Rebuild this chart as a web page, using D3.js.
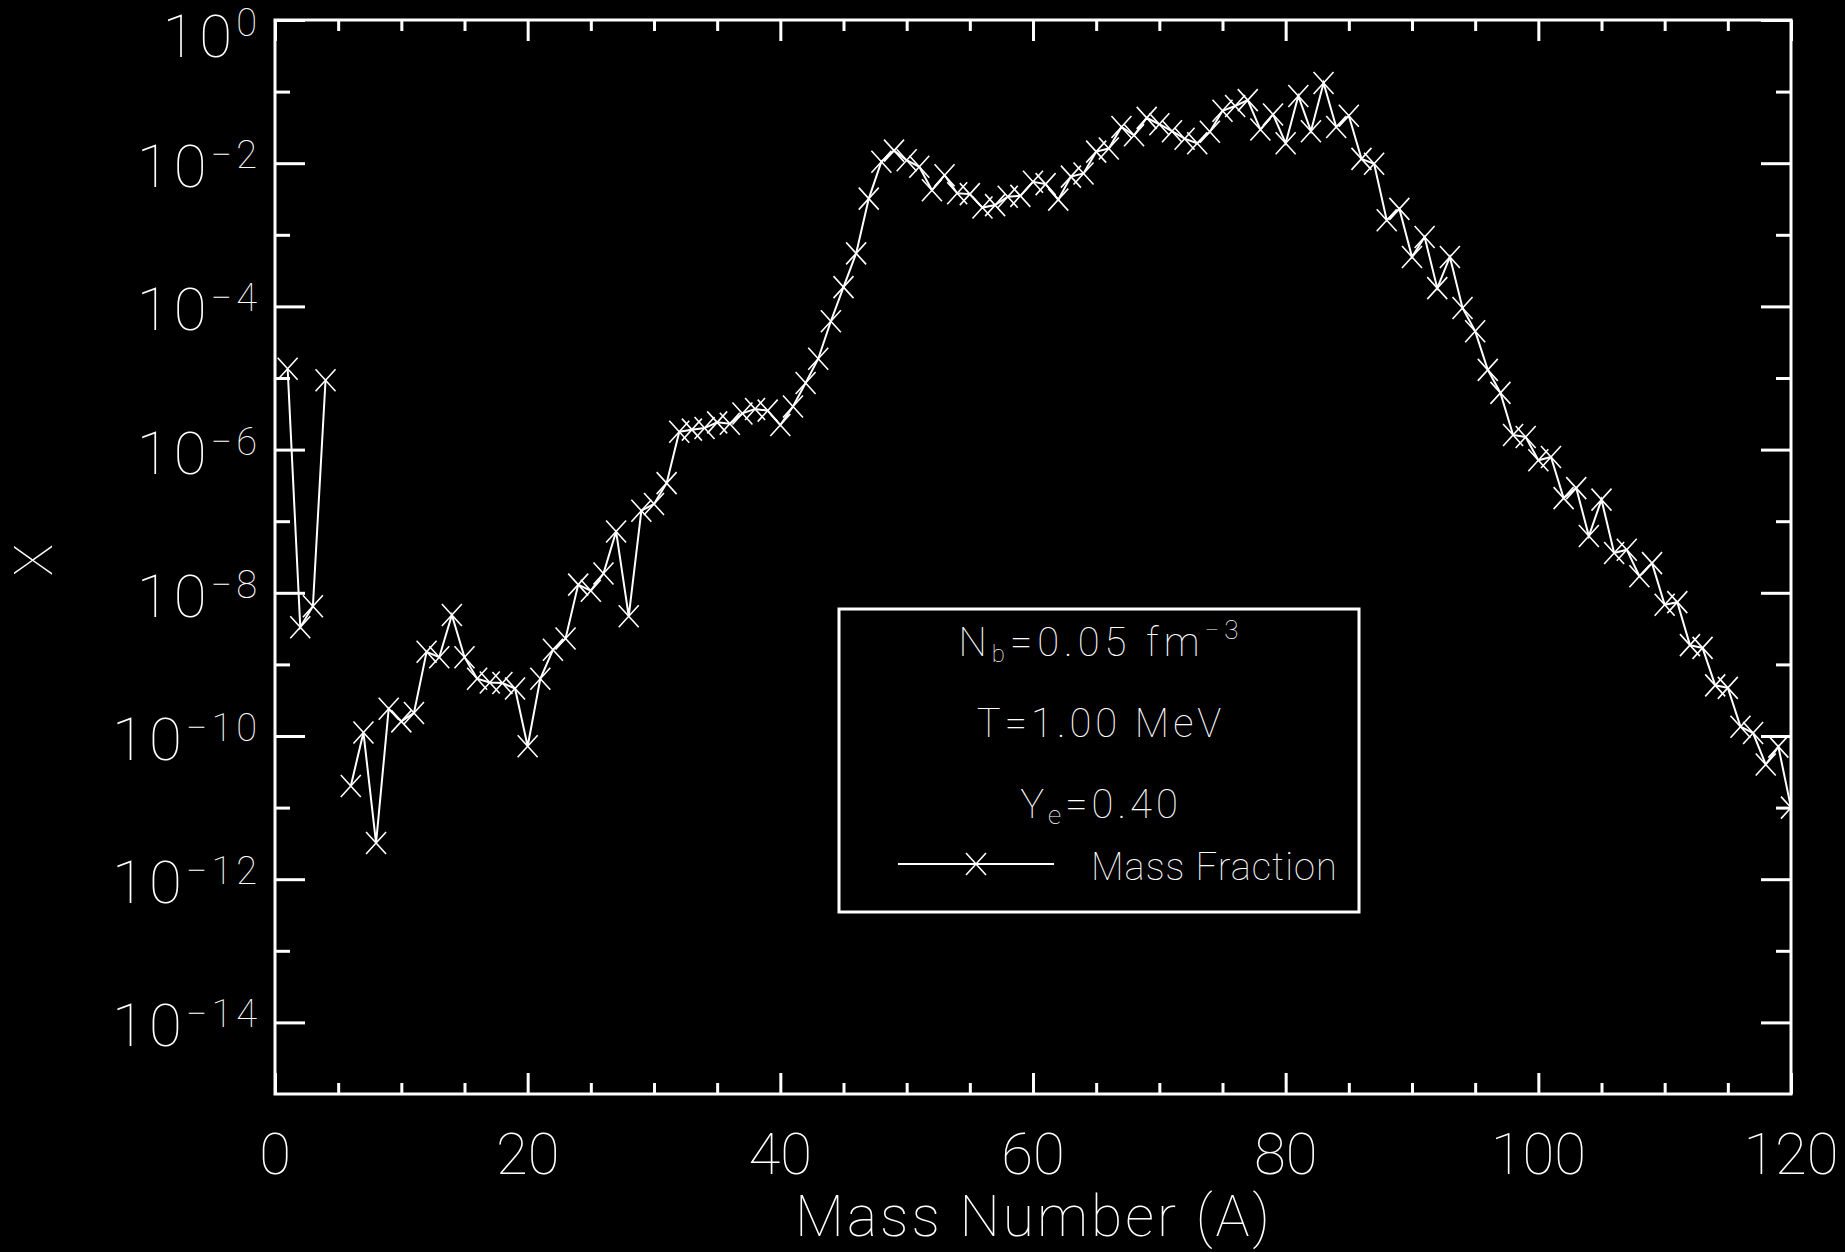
<!DOCTYPE html>
<html>
<head>
<meta charset="utf-8">
<script src="https://cdn.jsdelivr.net/npm/d3@7"></script>
<style>
  html, body { margin: 0; padding: 0; background: #000; }
  svg { display: block; }
  text { fill: #fff; font-family: Roboto, "DejaVu Sans", sans-serif; font-weight: 100; }
</style>
</head>
<body>
<svg id="chart" width="1845" height="1252"></svg>
<script>
// Mass number A of each nucleus species
const massNumbers = d3.range(1, 121);

// Mass fraction X(A); null where the species is absent (line breaks there)
const massFractions = [
  1.35e-5, 3.3e-9, 6.5e-9, 9.3e-6, null,
  2.0e-11, 1.12e-10, 3.2e-12, 2.4e-10, 1.6e-10,
  2.1e-10, 1.5e-9, 1.26e-9, 4.9e-9, 1.26e-9,
  6.3e-10, 5.6e-10, 5.5e-10, 4.6e-10, 7.2e-11,
  6.3e-10, 1.6e-9, 2.3e-9, 1.3e-8, 1.07e-8,
  1.86e-8, 7.2e-8, 4.7e-9, 1.4e-7, 1.74e-7,
  3.4e-7, 1.78e-6, 1.9e-6, 2.0e-6, 2.4e-6,
  2.3e-6, 3.2e-6, 3.7e-6, 3.5e-6, 2.2e-6,
  4.0e-6, 8.5e-6, 1.86e-5, 6.2e-5, 1.86e-4,
  5.5e-4, 3.2e-3, 1.05e-2, 1.5e-2, 1.1e-2,
  8.9e-3, 4.2e-3, 6.8e-3, 3.8e-3, 3.7e-3,
  2.4e-3, 2.6e-3, 3.4e-3, 3.5e-3, 5.5e-3,
  5.1e-3, 3.1e-3, 6.5e-3, 7.2e-3, 1.45e-2,
  1.6e-2, 3.2e-2, 2.45e-2, 4.3e-2, 3.5e-2,
  2.8e-2, 2.2e-2, 1.9e-2, 2.75e-2, 5.4e-2,
  6.3e-2, 7.6e-2, 2.95e-2, 4.8e-2, 1.9e-2,
  8.7e-2, 2.8e-2, 1.32e-1, 3.2e-2, 4.6e-2,
  1.15e-2, 9.8e-3, 1.6e-3, 2.3e-3, 4.9e-4,
  9.3e-4, 1.8e-4, 4.9e-4, 9.5e-5, 4.5e-5,
  1.3e-5, 6.2e-6, 1.6e-6, 1.5e-6, 7.1e-7,
  7.9e-7, 2.1e-7, 2.9e-7, 6.2e-8, 2.0e-7,
  3.6e-8, 4.0e-8, 1.7e-8, 2.6e-8, 6.8e-9,
  7.4e-9, 1.86e-9, 1.7e-9, 5.1e-10, 4.7e-10,
  1.35e-10, 1.1e-10, 4.0e-11, 7.1e-11, 1.0e-11
];

// Axis ticks
const xMajorTicks = [0, 20, 40, 60, 80, 100, 120];
const xTickLabels = ["0", "20", "40", "60", "80", "100", "120"];
const xMinorTicks = [5, 10, 15, 25, 30, 35, 45, 50, 55, 65, 70, 75, 85, 90, 95, 105, 110, 115];
const yMajorExponents = [0, -2, -4, -6, -8, -10, -12, -14];
const yMinorExponents = [-1, -3, -5, -7, -9, -11, -13];

// Annotation box contents
const densityLabel = ["N", "b", "=0.05 fm", "\u22123"];
const temperatureLabel = "T=1.00 MeV";
const electronFractionLabel = ["Y", "e", "=0.40"];
const seriesName = "Mass Fraction";

const series = massNumbers.map((a, i) => ({ a, v: massFractions[i] }));

const plot = { left: 275, right: 1791, top: 20, bottom: 1094 };
const svg = d3.select("#chart");
svg.append("rect").attr("width", 1845).attr("height", 1252).attr("fill", "#000");

const x = d3.scaleLinear().domain([0, 120]).range([plot.left, plot.right]);
const y = d3.scaleLog().domain([1e-15, 1]).range([plot.bottom, plot.top]);

function tickStyle(g) {
  g.select(".domain").remove();
  g.selectAll("text").remove();
  g.selectAll("line").attr("stroke", "#fff").attr("stroke-width", 3);
}

// Inward ticks on all four sides
svg.append("g").attr("transform", `translate(0,${plot.bottom})`)
  .call(d3.axisBottom(x).tickValues(xMajorTicks).tickSize(-21).tickSizeOuter(0)).call(tickStyle);
svg.append("g").attr("transform", `translate(0,${plot.bottom})`)
  .call(d3.axisBottom(x).tickValues(xMinorTicks).tickSize(-11).tickSizeOuter(0)).call(tickStyle);
svg.append("g").attr("transform", `translate(0,${plot.top})`)
  .call(d3.axisTop(x).tickValues(xMajorTicks).tickSize(-21).tickSizeOuter(0)).call(tickStyle);
svg.append("g").attr("transform", `translate(0,${plot.top})`)
  .call(d3.axisTop(x).tickValues(xMinorTicks).tickSize(-11).tickSizeOuter(0)).call(tickStyle);

const yMajor = yMajorExponents.map(e => Math.pow(10, e));
const yMinor = yMinorExponents.map(e => Math.pow(10, e));
svg.append("g").attr("transform", `translate(${plot.left},0)`)
  .call(d3.axisLeft(y).tickValues(yMajor).tickSize(-30).tickSizeOuter(0)).call(tickStyle);
svg.append("g").attr("transform", `translate(${plot.left},0)`)
  .call(d3.axisLeft(y).tickValues(yMinor).tickSize(-15).tickSizeOuter(0)).call(tickStyle);
svg.append("g").attr("transform", `translate(${plot.right},0)`)
  .call(d3.axisRight(y).tickValues(yMajor).tickSize(-30).tickSizeOuter(0)).call(tickStyle);
svg.append("g").attr("transform", `translate(${plot.right},0)`)
  .call(d3.axisRight(y).tickValues(yMinor).tickSize(-15).tickSizeOuter(0)).call(tickStyle);

// Frame
svg.append("rect")
  .attr("x", plot.left).attr("y", plot.top)
  .attr("width", plot.right - plot.left).attr("height", plot.bottom - plot.top)
  .attr("fill", "none").attr("stroke", "#fff").attr("stroke-width", 3);

// Y tick labels: 10 with a superscript exponent (the top one is nudged down to stay on the page)
yMajorExponents.forEach(e => {
  const top = e === 0;
  const t = svg.append("text")
    .attr("x", 261).attr("y", y(Math.pow(10, e)) + (top ? 37 : 24))
    .attr("text-anchor", "end").style("font-size", "60px").style("letter-spacing", "4px");
  t.append("tspan").text("10");
  t.append("tspan").attr("dy", top ? -21 : -19).style("font-size", "38px")
    .text(top ? "0" : "\u2212" + (-e));
});

// X tick labels
xMajorTicks.forEach((v, i) => {
  svg.append("text").attr("x", x(v)).attr("y", 1174)
    .attr("text-anchor", "middle").style("font-size", "58px").text(xTickLabels[i]);
});

// Axis titles
svg.append("text").attr("x", (plot.left + plot.right) / 2 + 1).attr("y", 1236)
  .attr("text-anchor", "middle").style("font-size", "57px").style("letter-spacing", "3px")
  .text("Mass Number (A)");
svg.append("text").attr("transform", `translate(52,${(plot.top + plot.bottom) / 2 + 3}) rotate(-90)`)
  .attr("text-anchor", "middle").style("font-size", "54px").text("X");

// Data: line and X markers, clipped to the plot area
svg.append("clipPath").attr("id", "plot-clip").append("rect")
  .attr("x", plot.left).attr("y", plot.top)
  .attr("width", plot.right - plot.left).attr("height", plot.bottom - plot.top);
const dataLayer = svg.append("g").attr("clip-path", "url(#plot-clip)");

const line = d3.line()
  .defined(d => d.v != null)
  .x(d => x(d.a)).y(d => y(d.v));
dataLayer.append("path").datum(series)
  .attr("d", line).attr("fill", "none").attr("stroke", "#fff").attr("stroke-width", 2);

const cross = "M-10,-11L10,11M-10,11L10,-11";
dataLayer.selectAll("path.marker").data(series.filter(d => d.v != null)).join("path")
  .attr("class", "marker")
  .attr("transform", d => `translate(${x(d.a)},${y(d.v)})`)
  .attr("d", cross).attr("fill", "none").attr("stroke", "#fff").attr("stroke-width", 1.6);

// Annotation / legend box
const box = { x: 839, y: 609, w: 520, h: 303 };
const cx = box.x + box.w / 2 + 2;
svg.append("rect").attr("x", box.x).attr("y", box.y).attr("width", box.w).attr("height", box.h)
  .attr("fill", "#000").attr("stroke", "#fff").attr("stroke-width", 3);

const t1 = svg.append("text").attr("x", cx).attr("y", 656).attr("text-anchor", "middle")
  .style("font-size", "40px").style("letter-spacing", "5px");
t1.append("tspan").text(densityLabel[0]);
t1.append("tspan").attr("dy", 6).style("font-size", "24px").text(densityLabel[1]);
t1.append("tspan").attr("dy", -6).text(densityLabel[2]);
t1.append("tspan").attr("dy", -17).style("font-size", "26px").text(densityLabel[3]);

svg.append("text").attr("x", cx).attr("y", 737).attr("text-anchor", "middle")
  .style("font-size", "40px").style("letter-spacing", "4px").text(temperatureLabel);

const t3 = svg.append("text").attr("x", cx).attr("y", 818).attr("text-anchor", "middle")
  .style("font-size", "40px").style("letter-spacing", "4px");
t3.append("tspan").text(electronFractionLabel[0]);
t3.append("tspan").attr("dy", 6).style("font-size", "26px").text(electronFractionLabel[1]);
t3.append("tspan").attr("dy", -6).text(electronFractionLabel[2]);

svg.append("line").attr("x1", 898).attr("x2", 1054).attr("y1", 864).attr("y2", 864)
  .attr("stroke", "#fff").attr("stroke-width", 2);
svg.append("path").attr("transform", "translate(976,864)").attr("d", cross)
  .attr("fill", "none").attr("stroke", "#fff").attr("stroke-width", 1.6);
svg.append("text").attr("x", 1091).attr("y", 880).style("font-size", "38px")
  .style("letter-spacing", "1px").text(seriesName);
</script>
</body>
</html>
